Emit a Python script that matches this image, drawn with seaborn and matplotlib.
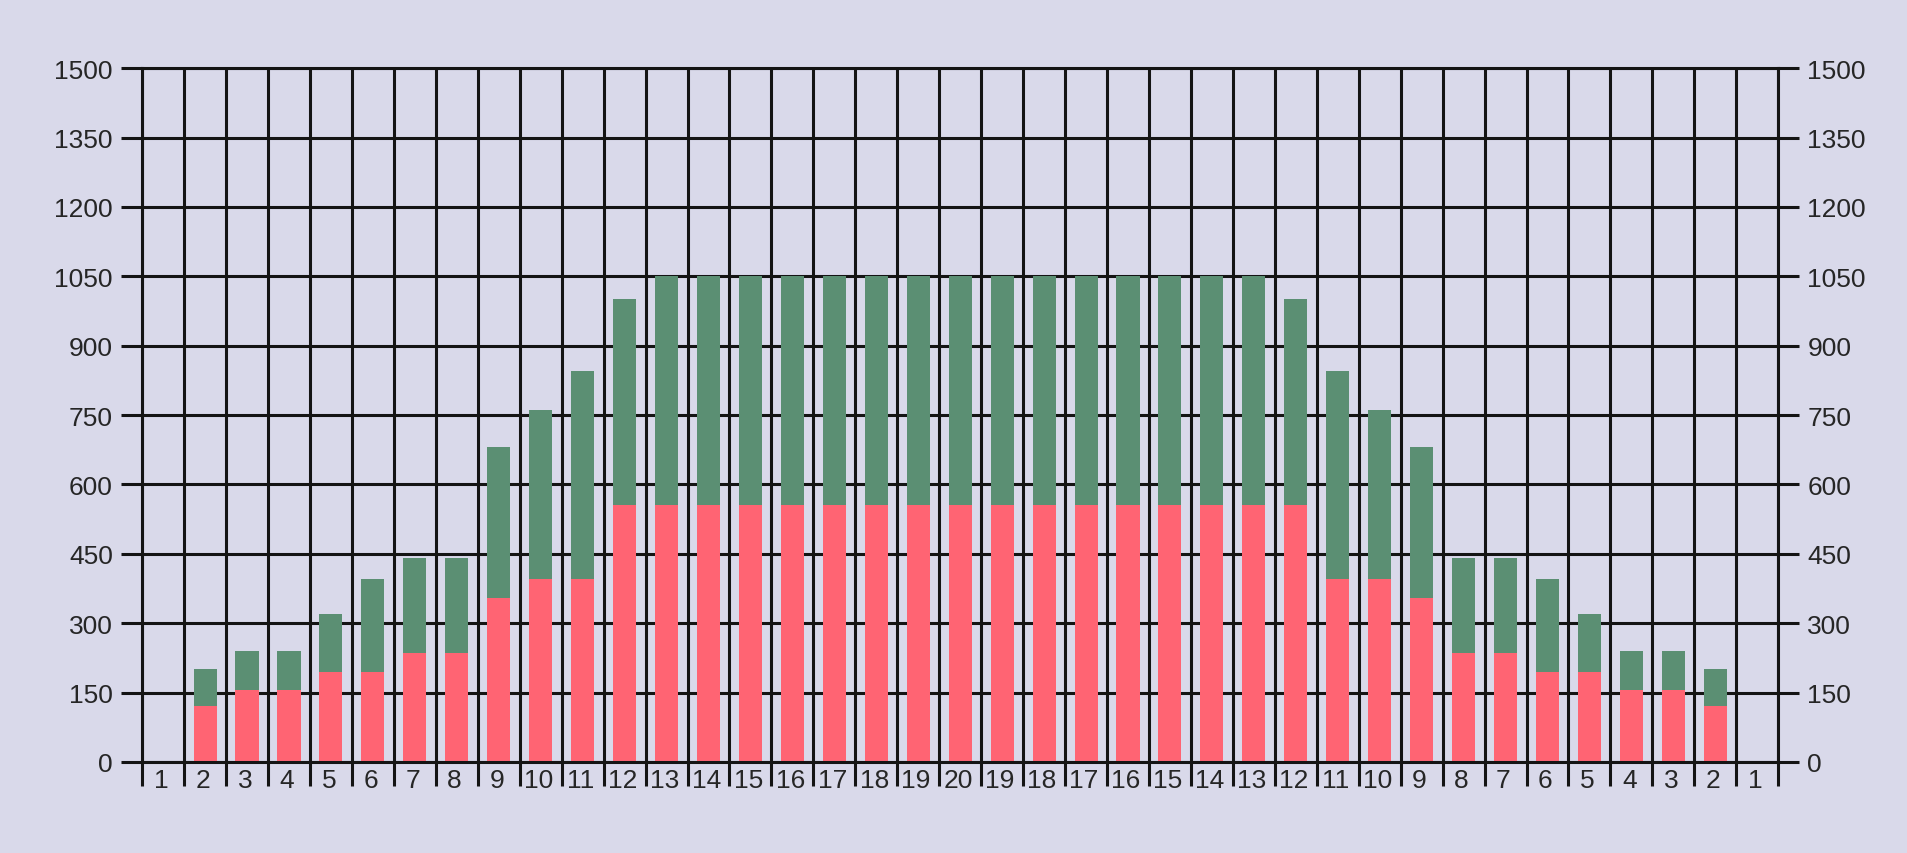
import numpy as np
import pandas as pd
import matplotlib
matplotlib.use("Agg")
import matplotlib.pyplot as plt
import seaborn as sns

# categories: 1..20 then back down to 1
labels = [str(i) for i in range(1, 21)] + [str(i) for i in range(19, 0, -1)]

# lower (red) part and full bar height (green on top)
red_part = [0, 120, 155, 155, 195, 195, 235, 235, 355, 395, 395, 555,
            555, 555, 555, 555, 555, 555, 555, 555,
            555, 555, 555, 555, 555, 555, 555,
            555, 395, 395, 355, 235, 235, 195, 195, 155, 155, 120, 0]
total = [0, 200, 240, 240, 320, 395, 440, 440, 680, 760, 845, 1000,
         1050, 1050, 1050, 1050, 1050, 1050, 1050, 1050,
         1050, 1050, 1050, 1050, 1050, 1050, 1050,
         1000, 845, 760, 680, 440, 440, 395, 320, 240, 240, 200, 0]

y_ticks = np.arange(0, 1501, 150)

bg = "#d9d9ea"
green = "#5b8f73"
red = "#ff6473"
line_col = "#141414"

sns.set_theme(style="ticks")
plt.rcParams["font.family"] = ["Liberation Sans", "DejaVu Sans"]

df = pd.DataFrame({"pos": np.arange(len(labels)), "red": red_part, "total": total})

fig = plt.figure(figsize=(19.08, 8.54), dpi=100, facecolor=bg)
ax = fig.add_axes([0.0745, 0.1066, 0.8575, 0.8124])
ax.set_facecolor(bg)

sns.barplot(data=df, x="pos", y="total", color=green, saturation=1,
            width=0.55, linewidth=0, ax=ax)
sns.barplot(data=df, x="pos", y="red", color=red, saturation=1,
            width=0.55, linewidth=0, ax=ax)

ax.set_xlim(-0.5, len(labels) - 0.5)
ax.set_ylim(0, 1500)
ax.set_xlabel("")
ax.set_ylabel("")

# grid lines on the cell boundaries, labels in the middle of the cells
ax.set_xticks(np.arange(-0.5, len(labels), 1))
ax.set_xticklabels([])
ax.set_xticks(np.arange(len(labels)) - 0.05, minor=True)
ax.set_xticklabels(labels, minor=True, fontsize=19)
ax.set_yticks(y_ticks)
ax.set_yticklabels([str(v) for v in y_ticks], fontsize=19)
ax.tick_params(axis="x", which="major", length=17, width=2.2, color=line_col)
ax.tick_params(axis="x", which="minor", length=0, pad=4)
ax.tick_params(axis="y", length=15, width=2.2, color=line_col, pad=6)
ax.set_axisbelow(True)
ax.grid(which="major", color=line_col, linewidth=2.2)
for s in ax.spines.values():
    s.set_visible(True)
    s.set_color(line_col)
    s.set_linewidth(2.2)

ax2 = ax.twinx()
ax2.set_ylim(0, 1500)
ax2.set_yticks(y_ticks)
ax2.set_yticklabels([str(v) for v in y_ticks], fontsize=19)
ax2.tick_params(axis="y", length=15, width=2.2, color=line_col, pad=6)
for s in ax2.spines.values():
    s.set_visible(False)

fig.savefig("out.png", dpi=100, facecolor=bg)
